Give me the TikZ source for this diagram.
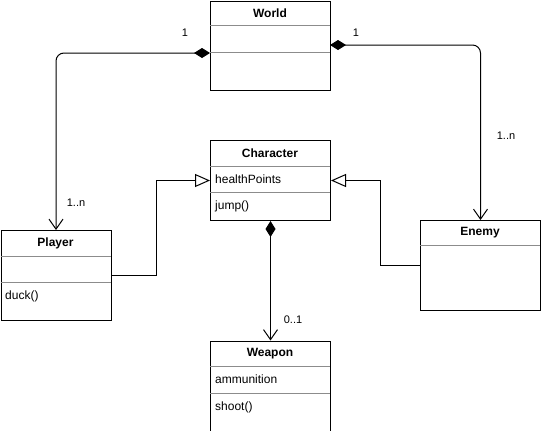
\documentclass[tikz,border=0pt]{standalone}
\usepackage{fontspec}
\setmainfont{Liberation Sans}
\usetikzlibrary{arrows.meta}
\begin{document}
\begin{tikzpicture}[x=1pt,y=-1pt,
  cls/.style={draw, line width=1pt, minimum width=120pt, anchor=north west, inner sep=0pt, fill=white},
  ttl/.style={font=\fontsize{12}{14}\selectfont\bfseries, inner sep=0pt},
  mem/.style={font=\fontsize{12}{14}\selectfont, anchor=west, inner sep=0pt},
  sep/.style={draw=black!45, line width=1pt},
  lbl/.style={font=\fontsize{11}{13}\selectfont, inner sep=0pt},
  conn/.style={line width=1pt},
  comp/.style={conn, {Diamond[length=16pt,width=10pt]}-{Straight Barb[length=10pt,width=14pt,line width=1pt]}},
  inh/.style={conn, -{Triangle[open,length=15pt,width=13pt,line width=1pt]}}]
\useasboundingbox (0,0) rectangle (541,431);

% World
\node[cls, minimum height=89.5pt] (world) at (210,0.5) {};
\node[ttl] (worldt) at (270,13) {World};
\draw[sep] (210,25.5) -- (330,25.5);
\draw[sep] (210,52.5) -- (330,52.5);

% Character
\node[cls, minimum height=80pt] (character) at (210,140) {};
\node[ttl] (chart) at (270,153) {Character};
\draw[sep] (210,166) -- (330,166);
\node[mem] (charhp) at (215,179.5) {healthPoints};
\draw[sep] (210,192.5) -- (330,192.5);
\node[mem] (charjump) at (215,206) {jump()};

% Player
\node[cls, minimum width=110pt, minimum height=90pt] (player) at (0.5,230) {};
\node[ttl] (playert) at (55.5,243) {Player};
\draw[sep] (0.5,256) -- (110.5,256);
\draw[sep] (0.5,282.5) -- (110.5,282.5);
\node[mem] (playerduck) at (5,296) {duck()};

% Enemy
\node[cls, minimum height=90pt] (enemy) at (420,220) {};
\node[ttl] (enemyt) at (480,233) {Enemy};
\draw[sep] (420,245.5) -- (540,245.5);

% Weapon
\node[cls, minimum height=90pt] (weapon) at (210,340.5) {};
\node[ttl] (weapont) at (270,353.5) {Weapon};
\draw[sep] (210,366) -- (330,366);
\node[mem] (weaponammo) at (215,379.5) {ammunition};
\draw[sep] (210,393) -- (330,393);
\node[mem] (weaponshoot) at (215,407) {shoot()};

% connectors
\coordinate (wl) at (210,53);
\coordinate (wr) at (330,45);
\draw[comp, rounded corners=8pt] (wl) -| (player.north);
\draw[comp, rounded corners=8pt] (wr) -| (enemy.north);
\draw[comp] (character.south) -- (weapon.north);
\draw[inh] (player.east) -- ++(45,0) |- (character.west);
\draw[inh] (enemy.west) -- ++(-40,0) |- (character.east);

% labels
\node[lbl] (l1) at (185,33) {1};
\node[lbl] (l2) at (356,33) {1};
\node[lbl] (l3) at (76,203) {1..n};
\node[lbl] (l4) at (506,136) {1..n};
\node[lbl] (l5) at (293,320) {0..1};
\end{tikzpicture}
\end{document}
